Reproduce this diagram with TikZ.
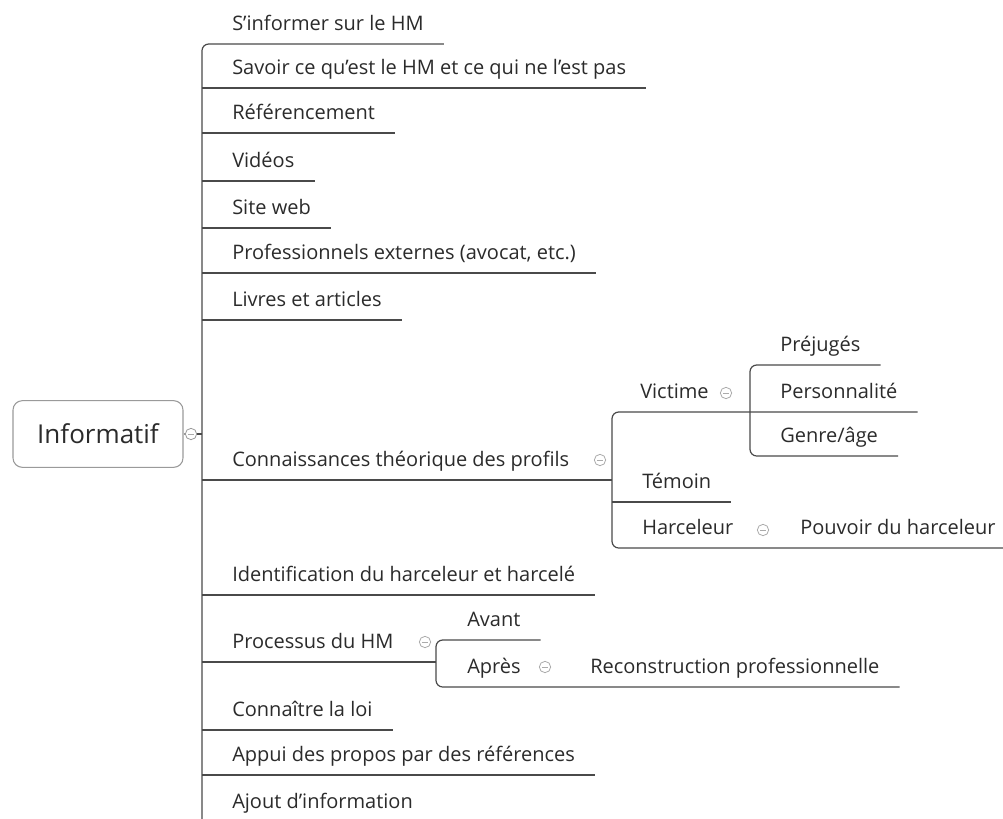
\documentclass[tikz,border=0pt]{standalone}
\usepackage{fontspec}
\setmainfont{Open Sans}
\definecolor{inkc}{HTML}{2B2B2B}
\definecolor{linec}{HTML}{4A4A4A}
\definecolor{btnc}{HTML}{ABABAB}
\definecolor{rootc}{HTML}{9A9A9A}
\tikzset{
  topic/.style={anchor=south west, inner xsep=15pt, inner ysep=10pt,
    text depth=0pt, text height=11pt, font=\fontsize{15}{18}\selectfont, text=inkc},
  branch/.style={draw=linec, line width=0.9pt},
  elbow/.style={branch, rounded corners=5pt},
  rootbox/.style={draw=rootc, line width=0.8pt, rounded corners=7pt,
    minimum width=127.5pt, minimum height=50pt, inner sep=0pt,
    font=\fontsize{19.5}{23}\selectfont, text=inkc},
  fold/.style={circle, draw=btnc, line width=0.6pt, minimum size=8.5pt,
    inner sep=0pt, fill=white,
    path picture={\draw[btnc, line width=0.6pt]
      ([xshift=-2.4pt]path picture bounding box.center) --
      ([xshift=2.4pt]path picture bounding box.center);}},
}
\begin{document}
\begin{tikzpicture}[x=0.75pt, y=-0.75pt]
\useasboundingbox[fill=white] (0,0) rectangle (1003,818);
\begin{scope}
\clip (0,0) rectangle (1003,818);

% central topic
\node[rootbox] (root) at (98,434) {Informatif};
\node[fold, draw=rootc] (c0) at (191,434) {};

% trunk junctions
\coordinate (trunkTop) at (202,44);
\coordinate (trunkBot) at (202,840);
\coordinate (kC) at (612,480);
\coordinate (kV) at (750,412);
\coordinate (kP) at (436,662);

% first-level topics
\node[topic] (n1)  at (212,44)  {S'informer sur le HM};
\node[topic] (n2)  at (212,88)  {Savoir ce qu'est le HM et ce qui ne l'est pas};
\node[topic] (n3)  at (212,133) {Référencement};
\node[topic] (n4)  at (212,181) {Vidéos};
\node[topic] (n5)  at (212,228) {Site web};
\node[topic] (n6)  at (212,273) {Professionnels externes (avocat, etc.)};
\node[topic] (n7)  at (212,320) {Livres et articles};
\node[topic] (n8)  at (212,480) {Connaissances théorique des profils};
\node[topic] (n9)  at (212,595) {Identification du harceleur et harcelé};
\node[topic] (n10) at (212,662) {Processus du HM};
\node[topic] (n11) at (212,730) {Connaître la loi};
\node[topic] (n12) at (212,775) {Appui des propos par des références};
\node[topic] (n13) at (212,822) {Ajout d'information};

% profiles
\node[topic] (victime)   at (620,412) {Victime};
\node[topic] (temoin)    at (622,502) {Témoin};
\node[topic] (harceleur) at (622,548) {Harceleur};
\node[topic] (prejuges)  at (760,365) {Préjugés};
\node[topic] (perso)     at (760,412) {Personnalité};
\node[topic] (genre)     at (760,456) {Genre/âge};
\node[topic] (pouvoir)   at (780,548) {Pouvoir du harceleur};

% process
\node[topic] (avant) at (447,640) {Avant};
\node[topic] (apres) at (447,687) {Après};
\node[topic] (recon) at (570,687) {Reconstruction professionnelle};

% fold buttons
\node[fold] (c8) at (600,460) {};
\node[fold] (cV) at (726,393) {};
\node[fold] (cH) at (763,530) {};
\node[fold] (cP) at (425,642) {};
\node[fold] (cA) at (545,667) {};

% connectors: root to trunk
\draw[branch, draw=rootc] (root.east) -- (c0.west);
\draw[branch] (c0.east) -- (c0.east -| trunkTop);
\draw[elbow] (n1.south east) -- (trunkTop) -- (trunkBot);
\foreach \n in {n2,n3,n4,n5,n6,n7,n9,n11,n12,n13}
  \draw[branch] (\n.south west -| trunkTop) -- (\n.south east);

% profiles subtree
\draw[branch] (n8.south west -| trunkTop) -- (kC);
\draw[elbow] (perso.south east) -- (kC |- victime.south) -- (kC |- harceleur.south) -- (pouvoir.south east);
\draw[branch] (kC |- temoin.south) -- (temoin.south east);
\draw[elbow] (prejuges.south east) -- (kV |- prejuges.south) -- (kV |- genre.south) -- (genre.south east);

% process subtree
\draw[branch] (n10.south west -| trunkTop) -- (kP);
\draw[elbow] (avant.south east) -- (kP |- avant.south) -- (kP |- apres.south) -- (recon.south east);
\end{scope}
\end{tikzpicture}
\end{document}
